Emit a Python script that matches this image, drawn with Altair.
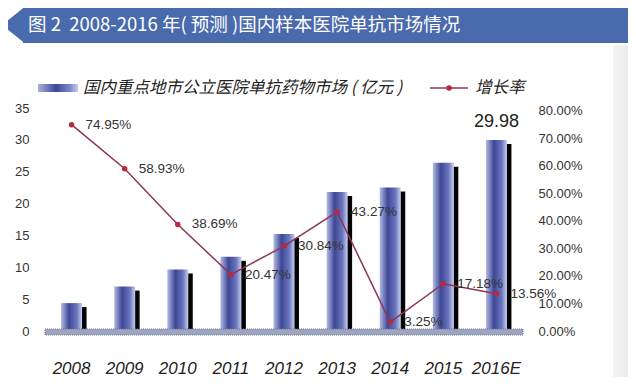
import altair as alt
import pandas as pd

# ---- data ----
years = ["2008", "2009", "2010", "2011", "2012", "2013", "2014", "2015", "2016E"]
market = [4.38, 6.97, 9.66, 11.64, 15.23, 21.82, 22.53, 26.40, 29.98]
growth = [0.7495, 0.5893, 0.3869, 0.2047, 0.3084, 0.4327, 0.0325, 0.1718, 0.1356]
left_ticks = [0, 5, 10, 15, 20, 25, 30, 35]
right_ticks = [0, 0.1, 0.2, 0.3, 0.4, 0.5, 0.6, 0.7, 0.8]
title_text = "图 2\u00a0\u00a02008-2016 年( 预测 )国内样本医院单抗市场情况"
legend_bar = "国内重点地市公立医院单抗药物市场 ( 亿元 )"
legend_line = "增长率"
highlight_year = "2016E"

df = pd.DataFrame({"year": years, "market": market, "growth": growth})

W, H = 478, 223
FONT = "Liberation Sans"
CJK = "Noto Sans CJK SC"
BANNER = "#4a6aae"
LINE = "#8e3556"
DOT = "#b8283f"

one = alt.Data(values=[{}])

xscale = alt.Scale(type="band", paddingInner=0.1, paddingOuter=0.05)
xaxis = alt.Axis(orient="bottom", domain=False, ticks=False, grid=False,
                 labelPadding=29, labelFontSize=17, labelFont=FONT,
                 labelFontStyle="italic", labelColor="#222", labelAngle=0)
xenc = alt.X("year:N", sort=years, scale=xscale, title=None, axis=xaxis)

yleft = alt.Scale(domain=[0, 35], nice=False)
yleft_axis = alt.Axis(orient="left", values=left_ticks, domain=False, ticks=False,
                      grid=False, labelPadding=16, labelFontSize=13,
                      labelFont=FONT, labelColor="#333")
yleft_enc = alt.Y("market:Q", scale=yleft, title=None, axis=yleft_axis)

yright = alt.Scale(domain=[0, 0.81], nice=False)
yright_axis = alt.Axis(orient="right", values=right_ticks, format=".2%",
                       domain=False, ticks=False, grid=False, labelPadding=15,
                       labelFontSize=13, labelFont=FONT, labelColor="#333")
yright_enc = alt.Y("growth:Q", scale=yright, title=None, axis=yright_axis)

bar_grad = alt.Gradient(
    gradient="linear", x1=0, x2=1, y1=0, y2=0,
    stops=[
        alt.GradientStop(offset=0, color="#b3bce6"),
        alt.GradientStop(offset=0.38, color="#3d4796"),
        alt.GradientStop(offset=0.75, color="#6b76be"),
        alt.GradientStop(offset=1, color="#c8d0f0"),
    ],
)
legend_grad = alt.Gradient(
    gradient="linear", x1=0, x2=1, y1=0, y2=0,
    stops=[
        alt.GradientStop(offset=0, color="#a8b3de"),
        alt.GradientStop(offset=0.45, color="#3c4894"),
        alt.GradientStop(offset=0.8, color="#7d88c8"),
        alt.GradientStop(offset=1, color="#c5cdee"),
    ],
)
panel_grad = alt.Gradient(
    gradient="linear", x1=0, x2=1, y1=0, y2=0,
    stops=[
        alt.GradientStop(offset=0, color="#f3f3f3"),
        alt.GradientStop(offset=1, color="#e3e3e3"),
    ],
)

# ---- decorations ----
panel = alt.Chart(one).mark_rect(color=panel_grad).encode(
    x=alt.value(568), x2=alt.value(600), y=alt.value(-63), y2=alt.value(277)
)
banner = alt.Chart(one).mark_rect(color=BANNER).encode(
    x=alt.value(-22), x2=alt.value(600), y=alt.value(-101), y2=alt.value(-65)
)
arrow = alt.Chart(one).mark_point(
    shape="M 0.25 -1 L -1 0 L 0.25 1 Z", filled=True, size=1296,
    color=BANNER, opacity=1, strokeWidth=0
).encode(x=alt.value(-25), y=alt.value(-83))
title = alt.Chart(one).mark_text(
    align="left", baseline="middle", font=CJK, fontSize=18.5, color="white"
).encode(x=alt.value(-17), y=alt.value(-83), text=alt.value(title_text))

leg_rect = alt.Chart(one).mark_rect(color=legend_grad).encode(
    x=alt.value(-7), x2=alt.value(33), y=alt.value(-24), y2=alt.value(-16)
)
leg_text1 = alt.Chart(one).mark_text(
    align="left", baseline="middle", font=CJK, fontSize=16.5,
    fontStyle="italic", color="#222"
).encode(x=alt.value(38), y=alt.value(-20), text=alt.value(legend_bar))
leg_line = alt.Chart(one).mark_rule(color=LINE, strokeWidth=1.5).encode(
    x=alt.value(385), x2=alt.value(423), y=alt.value(-20)
)
leg_dot = alt.Chart(one).mark_point(filled=True, size=30, color=DOT, opacity=1).encode(
    x=alt.value(404), y=alt.value(-20)
)
leg_text2 = alt.Chart(one).mark_text(
    align="left", baseline="middle", font=CJK, fontSize=16.5,
    fontStyle="italic", color="#222"
).encode(x=alt.value(430), y=alt.value(-20), text=alt.value(legend_line))

# ---- bars (left axis) ----
base = alt.Chart(df)

shadow = base.mark_bar(width=5, xOffset=12.5, yOffset=4, color="#050505").encode(
    x=xenc, y=yleft_enc
)
bars = base.mark_bar(width=21, color=bar_grad).encode(x=xenc, y=yleft_enc)
top_label = base.transform_filter(alt.datum.year == highlight_year).mark_text(
    baseline="bottom", dy=-9, fontSize=18, font=FONT, color="#222"
).encode(
    x=xenc, y=yleft_enc,
    text=alt.Text("market:Q", format=".2f"),
)
left_layer = alt.layer(shadow, bars, top_label)

baseband = alt.Chart(one).mark_rect(
    color="#9ea5c0", stroke="#6e7696", strokeWidth=1, strokeDash=[1, 1]
).encode(x=alt.value(0), x2=alt.value(W), y=alt.value(221), y2=alt.value(227))

# ---- growth line (right axis) ----
line = base.mark_line(color=LINE, strokeWidth=1.5).encode(x=xenc, y=yright_enc)
points = base.mark_point(filled=True, size=30, color=DOT, opacity=1).encode(
    x=xenc, y=yright_enc
)
pct = base.mark_text(
    align="left", baseline="middle", dx=14, fontSize=13.5, font=FONT, color="#333"
).encode(
    x=xenc, y=yright_enc,
    text=alt.Text("growth:Q", format=".2%"),
)
right_layer = alt.layer(line, points, pct)

chart = alt.layer(
    panel, banner, arrow, title, leg_rect, leg_text1, leg_line, leg_dot, leg_text2,
    left_layer, baseband, right_layer
).resolve_scale(y="independent").properties(
    width=W, height=H,
    autosize=alt.AutoSizeParams(type="none"),
    padding={"left": 37, "top": 100, "right": 105, "bottom": 46},
    background="white",
).configure_view(stroke=None)

chart.save("out.html", embed_options={"renderer": "svg", "actions": False})
